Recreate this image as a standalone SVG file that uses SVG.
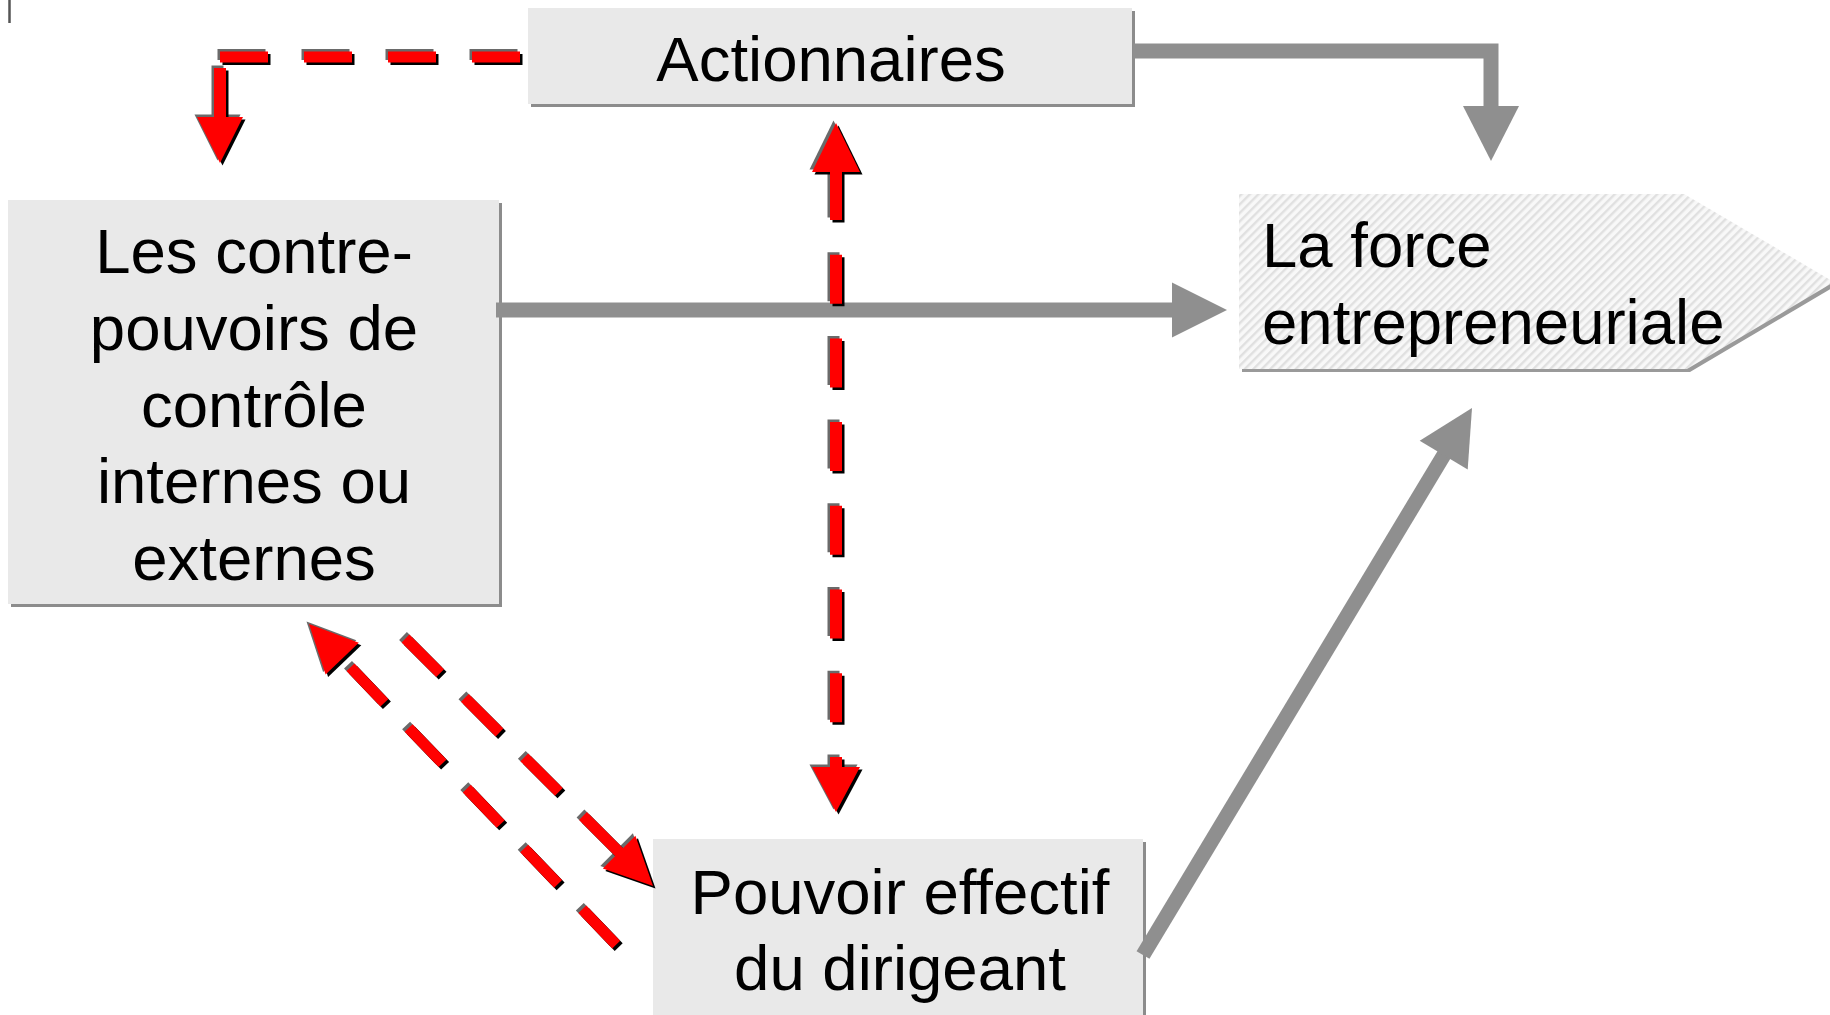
<svg xmlns="http://www.w3.org/2000/svg" xmlns:xlink="http://www.w3.org/1999/xlink" width="1830" height="1015" viewBox="0 0 1830 1015">
<style>
.box{fill:#e9e9e9}
.shadow{fill:#8c8c8c}
.lbl{font-family:"Liberation Sans",Arial,Helvetica,sans-serif;font-size:63.5px;fill:#000}
.mid{text-anchor:middle}
.gline{fill:none;stroke:#8f8f8f;stroke-width:15;stroke-linejoin:miter}
.ghead{fill:#8f8f8f}
.red{fill:#ff0000;stroke:#ff0000}
.shg{fill:#6a6a6a;stroke:#6a6a6a}
.shk{fill:#000;stroke:#000}
</style>
<defs>
<pattern id="hatch" width="6" height="6" patternUnits="userSpaceOnUse" patternTransform="rotate(45)">
<rect width="6" height="6" fill="#f8f8f8"/>
<rect width="2.4" height="6" fill="#e0e0e0"/>
</pattern>
<g id="geo-top">
<path d="M520,57H472M436,57H388M352,57H304M268,57H220" fill="none" stroke-width="11"/>
<path d="M220,68V118" fill="none" stroke-width="12"/>
<polygon points="197,117 243,117 220,163" stroke="none"/>
</g>
<g id="geo-vert">
<path d="M836,171V768" fill="none" stroke-width="12" stroke-dasharray="49 34.7"/>
<polygon points="812,172 860,172 836,123" stroke="none"/>
<polygon points="812,767 860,767 836,812" stroke="none"/>
</g>
<g id="geo-down">
<path d="M405.5,638.5L440.1,673.1M464.9,697.9L499.5,732.5M524.3,757.3L558.9,791.9M583,816L621,854" fill="none" stroke-width="11"/>
<polygon points="635.4,835.8 602.8,868.4 653,886" stroke="none"/>
</g>
<g id="geo-up">
<path d="M350.5,667.3L384.4,702.7M408.6,728L442.6,763.3M466.8,788.6L500.7,824M524.2,848.5L558.1,883.9M582.3,909.2L616.2,944.6" fill="none" stroke-width="11"/>
<polygon points="358.8,642.8 325.6,674.6 309,624" stroke="none"/>
</g>
</defs>

<rect width="1830" height="1015" fill="#ffffff"/>
<line x1="9.5" y1="0" x2="9.5" y2="23" stroke="#555555" stroke-width="2.5"/>

<g id="node-actionnaires">
<rect class="shadow" x="531" y="11" width="604" height="96"/>
<rect class="box" x="528" y="8" width="604" height="96"/>
<text class="lbl mid" x="831" y="81">Actionnaires</text>
</g>

<g id="node-contrepouvoirs">
<rect class="shadow" x="11" y="203" width="491" height="404"/>
<rect class="box" x="8" y="200" width="491" height="404"/>
<text class="lbl mid" x="254" y="273">Les contre-</text>
<text class="lbl mid" x="254" y="350">pouvoirs de</text>
<text class="lbl mid" x="254" y="427">contrôle</text>
<text class="lbl mid" x="254" y="503">internes ou</text>
<text class="lbl mid" x="254" y="580">externes</text>
</g>

<g id="node-force">
<polygon points="1242,197 1687,197 1837,285 1690,372 1242,372" fill="#9a9a9a"/>
<polygon points="1239,194 1684,194 1834,282 1687,369 1239,369" fill="url(#hatch)"/>
<text class="lbl" x="1262" y="267">La force</text>
<text class="lbl" x="1262" y="344">entrepreneuriale</text>
</g>

<g id="node-pouvoir">
<rect class="shadow" x="656" y="842" width="490" height="200"/>
<rect class="box" x="653" y="839" width="490" height="200"/>
<text class="lbl mid" x="900" y="914">Pouvoir effectif</text>
<text class="lbl mid" x="900" y="990">du dirigeant</text>
</g>

<g id="connectors">
<g id="conn-actionnaires-force">
<path class="gline" d="M1133,51H1491V107"/>
<polygon class="ghead" points="1463,106 1519,106 1491,161"/>
</g>
<g id="conn-contre-force">
<path class="gline" d="M496,310H1173"/>
<polygon class="ghead" points="1172,282.5 1172,337.5 1227,310"/>
</g>
<g id="conn-pouvoir-force">
<path class="gline" d="M1143,955L1444.5,454"/>
<polygon class="ghead" points="1467.7,469.5 1419.7,440.7 1472,408"/>
</g>
<g id="conn-actionnaires-contre">
<use xlink:href="#geo-top" class="shg" transform="translate(-2.5,-2.5)"/>
<use xlink:href="#geo-top" class="shk" transform="translate(2.5,2.5)"/>
<use xlink:href="#geo-top" class="red"/>
</g>
<g id="conn-actionnaires-pouvoir">
<use xlink:href="#geo-vert" class="shg" transform="translate(-2.5,-2.5)"/>
<use xlink:href="#geo-vert" class="shk" transform="translate(2.5,2.5)"/>
<use xlink:href="#geo-vert" class="red"/>
</g>
<g id="conn-contre-pouvoir">
<use xlink:href="#geo-down" class="shg" transform="translate(-2.5,-2.5)"/>
<use xlink:href="#geo-down" class="shk" transform="translate(2.5,2.5)"/>
<use xlink:href="#geo-down" class="red"/>
</g>
<g id="conn-pouvoir-contre">
<use xlink:href="#geo-up" class="shg" transform="translate(-2.5,-2.5)"/>
<use xlink:href="#geo-up" class="shk" transform="translate(2.5,2.5)"/>
<use xlink:href="#geo-up" class="red"/>
</g>
</g>
</svg>
